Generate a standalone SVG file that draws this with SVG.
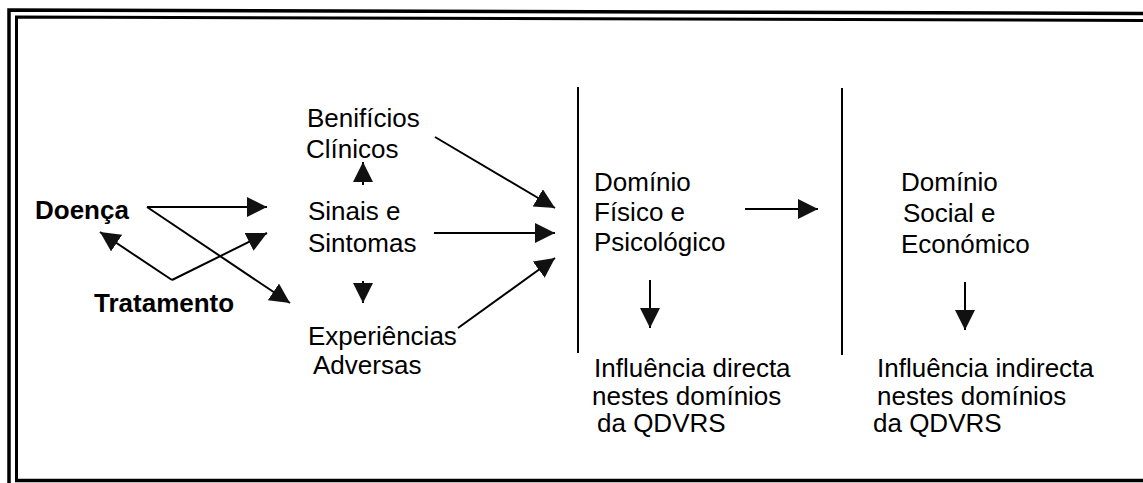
<svg xmlns="http://www.w3.org/2000/svg" width="1143" height="483" viewBox="0 0 1143 483">
<defs>
<style>
text{font-family:"Liberation Sans",Arial,sans-serif;font-size:26px;fill:#000}
.b{font-weight:bold}
.c{stroke:#000;stroke-width:2;fill:none}
.frame{stroke:#000;fill:none}
</style>
<marker id="ah" markerUnits="userSpaceOnUse" markerWidth="22" markerHeight="22" refX="20" refY="10" orient="auto" viewBox="0 0 22 22">
<path d="M0,0 L20,10 L0,20 Z" fill="#111"/>
</marker>
</defs>
<rect width="1143" height="483" fill="#fff"/>
<g id="frame">
<path class="frame" stroke-width="3.5" d="M9,483 V10 L1143,13.5"/>
<path class="frame" stroke-width="3" d="M16.5,480 V17 L1143,20.5"/>
<path class="frame" stroke-width="3.5" d="M15,480.5 H1143"/>
<path class="frame" stroke-width="2" d="M578,87 V353"/>
<path class="frame" stroke-width="2" d="M842,88 V355"/>
</g>
<g id="connectors">
<line class="c" x1="147" y1="207" x2="267" y2="207" marker-end="url(#ah)"/>
<line class="c" x1="147" y1="207" x2="290" y2="303" marker-end="url(#ah)"/>
<line class="c" x1="172" y1="280" x2="100" y2="232" marker-end="url(#ah)"/>
<line class="c" x1="172" y1="280" x2="267" y2="233" marker-end="url(#ah)"/>
<line class="c" x1="363" y1="185" x2="363" y2="162" marker-end="url(#ah)"/>
<line class="c" x1="363" y1="281" x2="363" y2="303" marker-end="url(#ah)"/>
<line class="c" x1="435" y1="137" x2="555" y2="208" marker-end="url(#ah)"/>
<line class="c" x1="434" y1="233" x2="555" y2="233" marker-end="url(#ah)"/>
<line class="c" x1="458" y1="328" x2="555" y2="258" marker-end="url(#ah)"/>
<line class="c" x1="745" y1="209" x2="818" y2="209" marker-end="url(#ah)"/>
<line class="c" x1="650" y1="280" x2="650" y2="328" marker-end="url(#ah)"/>
<line class="c" x1="965" y1="282" x2="965" y2="330" marker-end="url(#ah)"/>
</g>
<g id="doenca"><text class="b" x="35" y="219">Doença</text></g>
<g id="tratamento"><text class="b" x="94" y="312">Tratamento</text></g>
<g id="beneficios"><text x="307" y="127">Benifícios</text><text x="306" y="158">Clínicos</text></g>
<g id="sinais"><text x="308" y="220">Sinais e</text><text x="308" y="252">Sintomas</text></g>
<g id="experiencias"><text x="308" y="345">Experiências</text><text x="313" y="374">Adversas</text></g>
<g id="dominio-fisico"><text x="594" y="191">Domínio</text><text x="594" y="221">Físico e</text><text x="594" y="251">Psicológico</text></g>
<g id="dominio-social"><text x="901" y="191">Domínio</text><text x="903" y="222">Social e</text><text x="901" y="253">Económico</text></g>
<g id="influencia-directa"><text x="594" y="377">Influência directa</text><text x="592" y="405">nestes domínios</text><text x="597" y="432">da QDVRS</text></g>
<g id="influencia-indirecta"><text x="877" y="377">Influência indirecta</text><text x="877" y="405">nestes domínios</text><text x="873" y="432">da QDVRS</text></g>
</svg>
